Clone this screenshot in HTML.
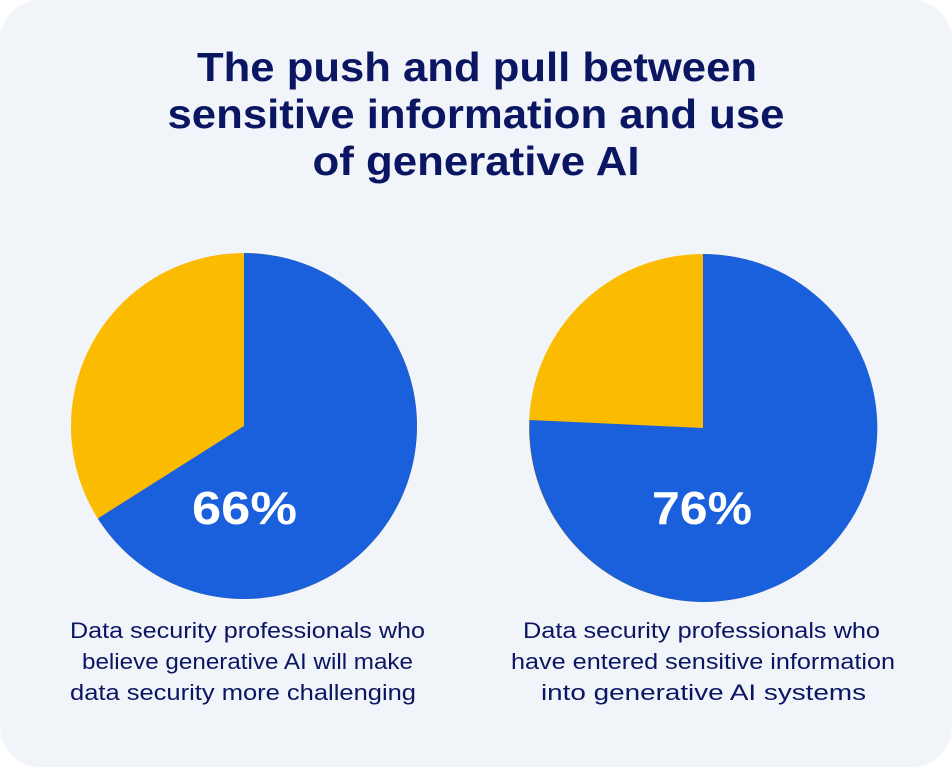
<!DOCTYPE html>
<html><head><style>
body{margin:0;background:#fff;}
.card{position:absolute;left:0;top:0;width:952px;height:767px;background:#f1f4f9;border-radius:40px;}
svg{position:absolute;left:0;top:0}
</style></head><body>
<div class="card"></div>
<svg width="952" height="767" viewBox="0 0 952 767">
<g font-family="Liberation Sans, sans-serif" text-anchor="middle" lengthAdjust="spacingAndGlyphs">
<text x="477" y="81" font-size="41" font-weight="bold" fill="#0b1663" textLength="560" lengthAdjust="spacingAndGlyphs">The push and pull between</text>
<text x="476" y="128" font-size="41" font-weight="bold" fill="#0b1663" textLength="617" lengthAdjust="spacingAndGlyphs">sensitive information and use</text>
<text x="476" y="175" font-size="41" font-weight="bold" fill="#0b1663" textLength="327" lengthAdjust="spacingAndGlyphs">of generative AI</text>

<circle cx="244" cy="426" r="173" fill="#fbbb00"/>
<path d="M244 426 L244 253 A173 173 0 1 1 97.8 518.5 Z" fill="#1a5fdb"/>
<text x="244.5" y="524" font-size="46" font-weight="bold" fill="#fff" textLength="105" lengthAdjust="spacingAndGlyphs">66%</text>

<circle cx="703" cy="428" r="174" fill="#fbbb00"/>
<path d="M703 428 L703 254 A174 174 0 1 1 529.5 420 Z" fill="#1a5fdb"/>
<text x="702" y="524" font-size="46" font-weight="bold" fill="#fff" textLength="100" lengthAdjust="spacingAndGlyphs">76%</text>

<g font-size="22" fill="#0b1663">
<text x="247.5" y="638" textLength="355" lengthAdjust="spacingAndGlyphs">Data security professionals who</text>
<text x="247.5" y="669" textLength="331" lengthAdjust="spacingAndGlyphs">believe generative AI will make</text>
<text x="243" y="700" textLength="346" lengthAdjust="spacingAndGlyphs">data security more challenging</text>
<text x="701.5" y="638" textLength="357" lengthAdjust="spacingAndGlyphs">Data security professionals who</text>
<text x="703" y="669" textLength="384" lengthAdjust="spacingAndGlyphs">have entered sensitive information</text>
<text x="703.5" y="700" textLength="325" lengthAdjust="spacingAndGlyphs">into generative AI systems</text>
</g>
</g>
</svg>
</body></html>
